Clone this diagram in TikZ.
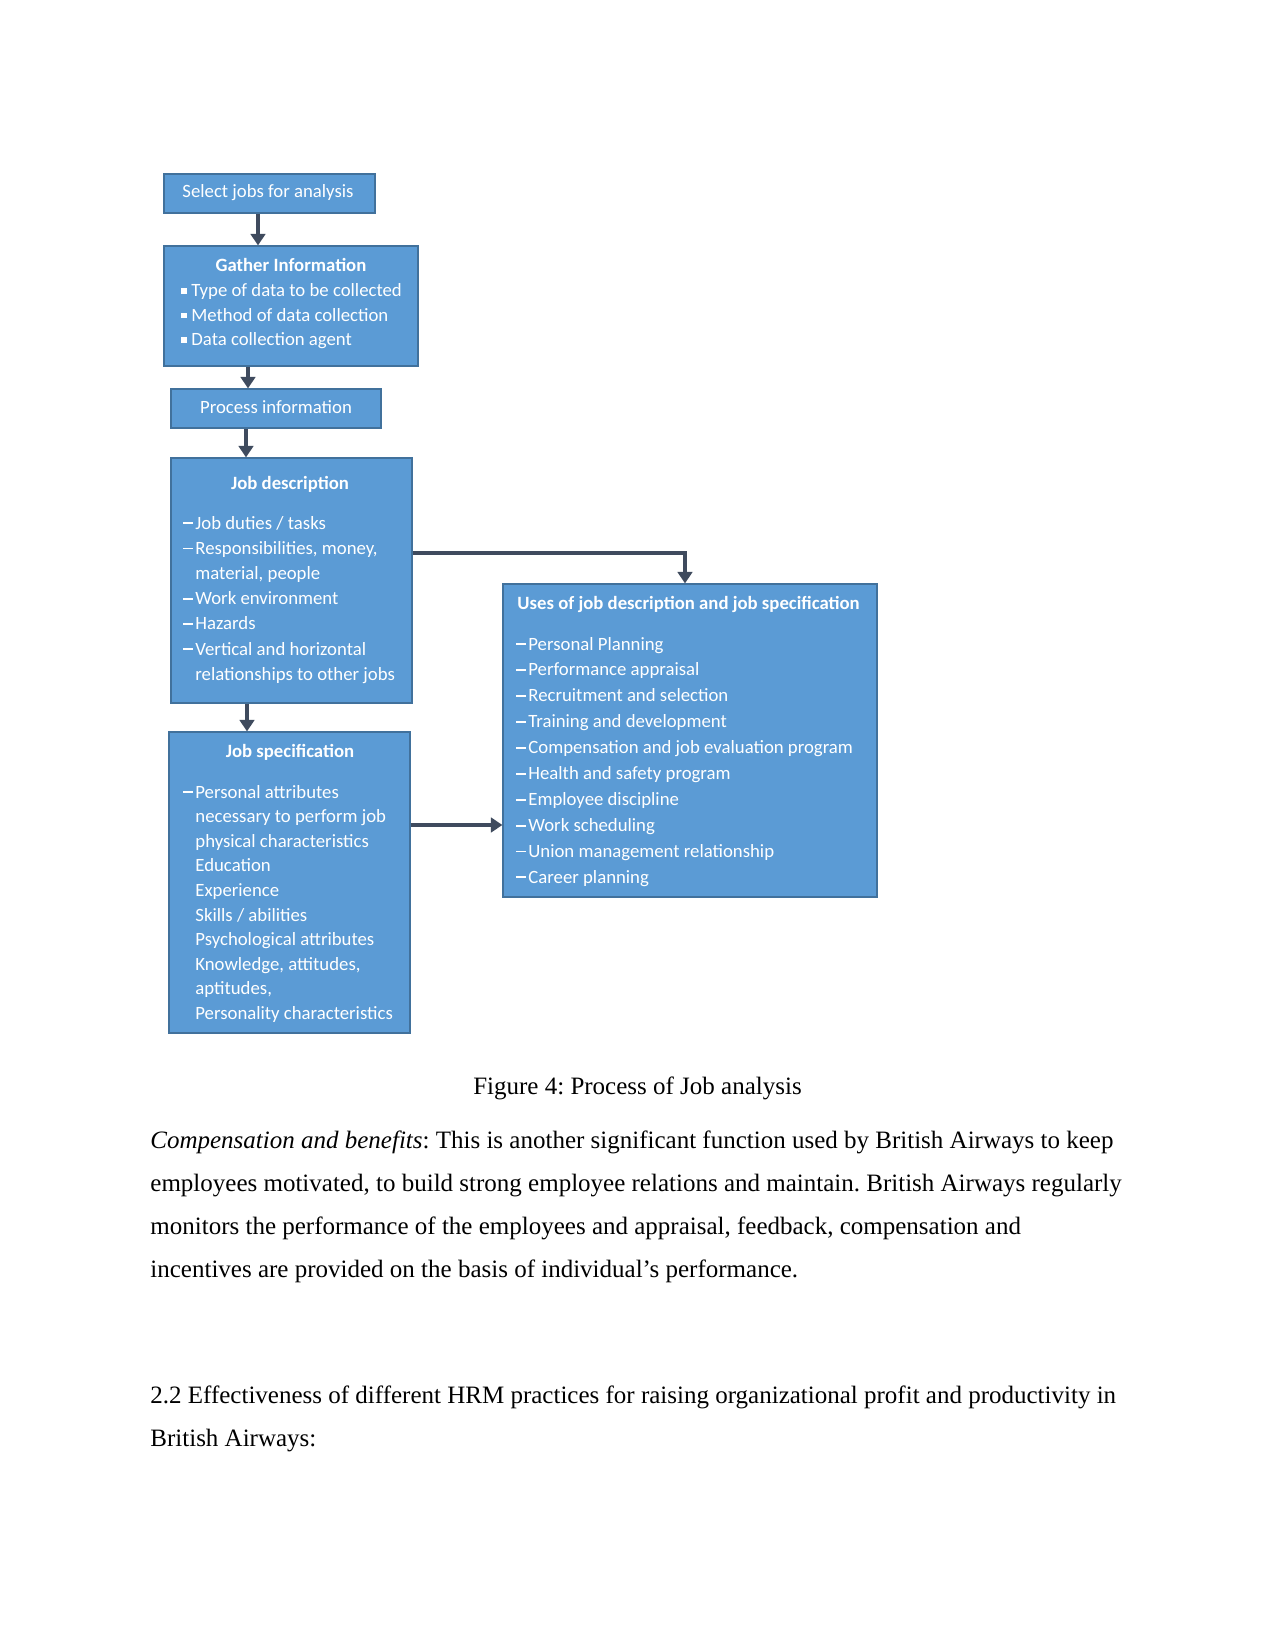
\documentclass[tikz,border=0pt]{standalone}
\usepackage{fontspec}
\setmainfont{Liberation Serif}
\newfontfamily\diafont{Carlito}
\usetikzlibrary{arrows.meta,fit}
\frenchspacing
\definecolor{boxfill}{HTML}{5B9BD5}
\definecolor{boxline}{HTML}{41719C}
\definecolor{arrowcol}{HTML}{3F4B5E}
\newcommand{\dashitem}{\llap{\rule[2.3pt]{4.8pt}{0.9pt}\hspace{1pt}}}
\newcommand{\sqbul}{\llap{\rule[1.6pt]{2.7pt}{2.7pt}\hspace{2.2pt}}}
\tikzset{
 box/.style={draw=boxline, fill=boxfill, line width=0.6pt, inner sep=0pt},
 dtxt/.style={text=white, font=\diafont\fontsize{9}{11}\selectfont, inner sep=0pt, anchor=base west},
 dtitle/.style={text=white, font=\diafont\bfseries\fontsize{9}{11}\selectfont, inner sep=0pt, anchor=base},
 dplain/.style={text=white, font=\diafont\fontsize{9}{11}\selectfont, inner sep=0pt, anchor=base},
 conn/.style={draw=arrowcol, line width=1.9pt, line join=miter, -{Triangle[width=7pt,length=5.5pt]}},
 body/.style={font=\fontsize{12}{14}\selectfont, inner sep=0pt, anchor=base west},
}
\begin{document}
\begin{tikzpicture}[x=0.48pt,y=-0.48pt]
\fill[white] (0,0) rectangle (1275,1650);
\useasboundingbox (0,0) rectangle (1275,1650);

% boxes
\coordinate (b1a) at (164,174); \coordinate (b1b) at (375,213);
\node[box, fit=(b1a)(b1b)] (b1) {};
\coordinate (b2a) at (164,246); \coordinate (b2b) at (418,366);
\node[box, fit=(b2a)(b2b)] (b2) {};
\coordinate (b3a) at (171,389); \coordinate (b3b) at (381,428);
\node[box, fit=(b3a)(b3b)] (b3) {};
\coordinate (b4a) at (171,458); \coordinate (b4b) at (412,703);
\node[box, fit=(b4a)(b4b)] (b4) {};
\coordinate (b5a) at (169,732); \coordinate (b5b) at (410,1033);
\node[box, fit=(b5a)(b5b)] (b5) {};
\coordinate (b6a) at (503,584); \coordinate (b6b) at (877,897);
\node[box, fit=(b6a)(b6b)] (b6) {};

% box texts
\node[dplain] (t1) at (268,198) {Select jobs for analysis};

\node[dtitle] (t2) at (291,272) {Gather Information};
\foreach [count=\i] \t in {Type of data to be collected, Method of data collection, Data collection agent}
  \node[dtxt] (t2l\i) at (191,{297+(\i-1)*24.5}) {\sqbul\t};

\node[dplain] (t3) at (276,414) {Process information};

\node[dtitle] (t4) at (290,489) {Job description};
\foreach [count=\i] \t in {\dashitem Job duties / tasks, {\dashitem Responsibilities, money,}, {material, people}, \dashitem Work environment, \dashitem Hazards, \dashitem Vertical and horizontal, relationships to other jobs}
  \node[dtxt] (t4l\i) at (195,{529+(\i-1)*25.2}) {\t};

\node[dtitle] (t5) at (290,757) {Job specification};
\foreach [count=\i] \t in {\dashitem Personal attributes, necessary to perform job, physical characteristics, Education, Experience, Skills / abilities, Psychological attributes, {Knowledge, attitudes,}, {aptitudes,}, Personality characteristics}
  \node[dtxt] (t5l\i) at (195,{798+(\i-1)*24.6}) {\t};

\node[dtitle, anchor=base west] (t6) at (517,609) {Uses of job description and job specification};
\foreach [count=\i] \t in {Personal Planning, Performance appraisal, Recruitment and selection, Training and development, Compensation and job evaluation program, Health and safety program, Employee discipline, Work scheduling, Union management relationship, Career planning}
  \node[dtxt] (t6l\i) at (528,{650+(\i-1)*25.9}) {\dashitem\t};

% connectors
\coordinate (a1) at (258,0);
\coordinate (a2) at (248,0);
\coordinate (a3) at (246,0);
\coordinate (a4) at (247,0);
\draw[conn] (b1.south -| a1) -- (b2.north -| a1);
\draw[conn] (b2.south -| a2) -- (b3.north -| a2);
\draw[conn] (b3.south -| a3) -- (b4.north -| a3);
\draw[conn] (b4.south -| a4) -- (b5.north -| a4);
\coordinate (j1) at (685,553);
\draw[conn] (b4.east |- j1) -| (b6.north -| j1);
\coordinate (j2) at (0,825);
\draw[conn] (b5.east |- j2) -- (b6.west |- j2);

% caption and body text
\node[font=\fontsize{12}{14}\selectfont, inner sep=0pt, anchor=base] (cap) at (637.5,1094) {Figure 4: Process of Job analysis};
\node[body] (p1) at (150,1148) {\textit{Compensation and benefits}: This is another significant function used by British Airways to keep};
\node[body] (p2) at (150,1191) {employees motivated, to build strong employee relations and maintain. British Airways regularly};
\node[body] (p3) at (150,1234) {monitors the performance of the employees and appraisal, feedback, compensation and};
\node[body] (p4) at (150,1277) {incentives are provided on the basis of individual’s performance.};
\node[body] (h1) at (150,1403) {2.2 Effectiveness of different HRM practices for raising organizational profit and productivity in};
\node[body] (h2) at (150,1446) {British Airways:};
\end{tikzpicture}
\end{document}
